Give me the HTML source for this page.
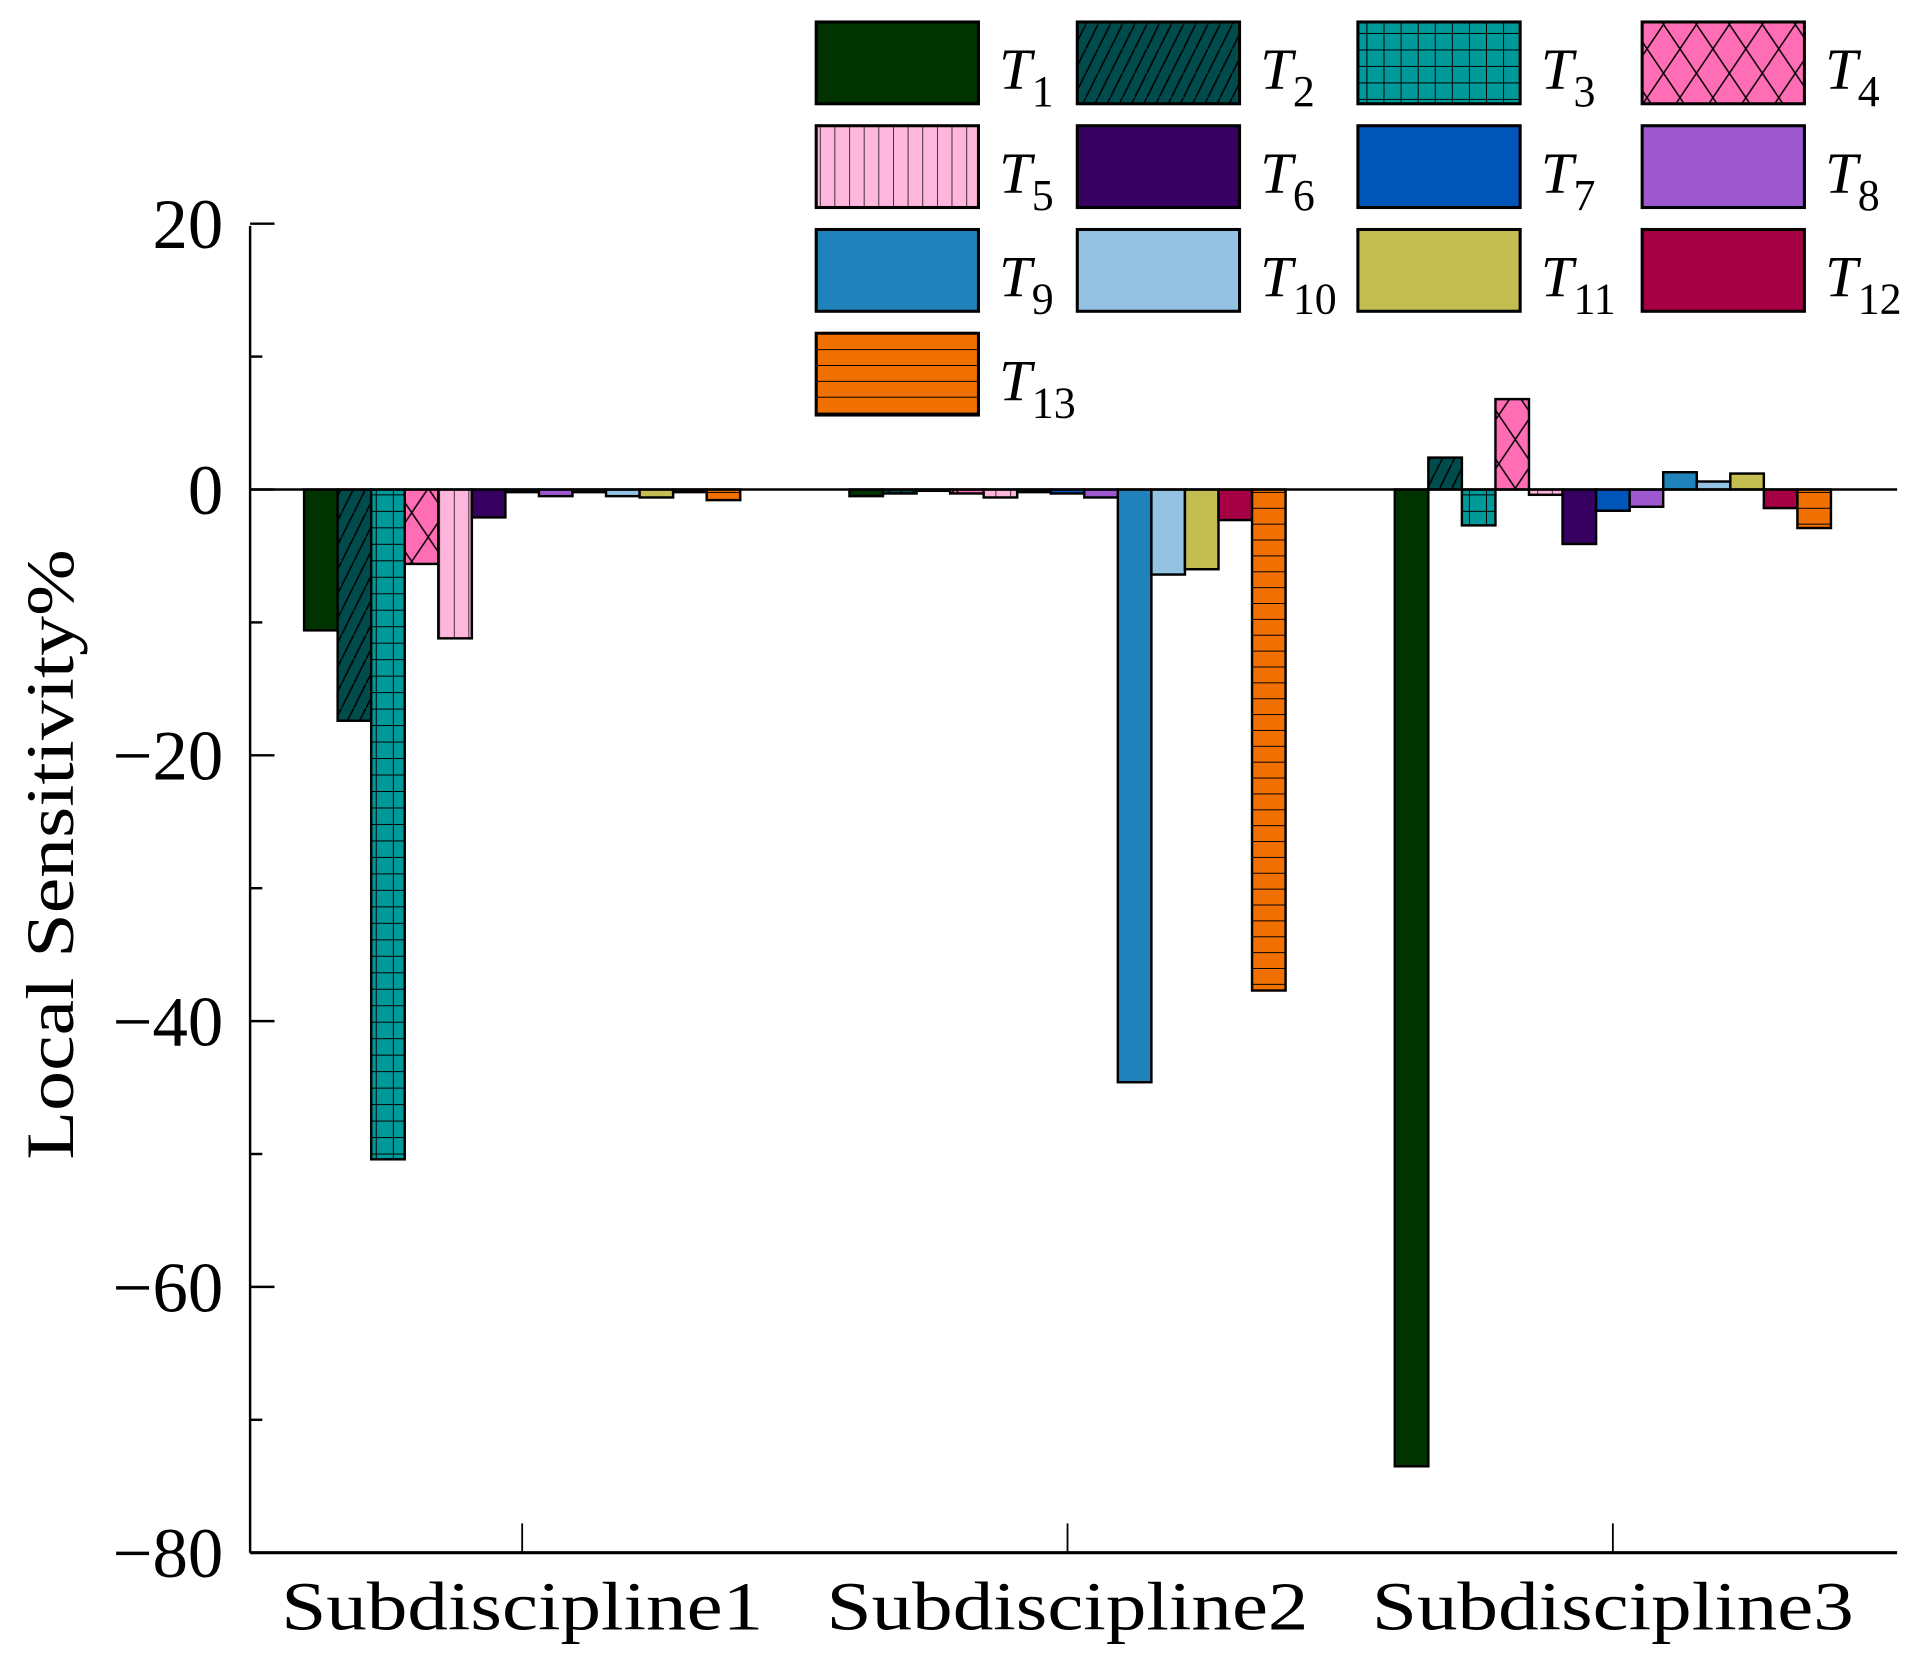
<!DOCTYPE html>
<html><head><meta charset="utf-8"><style>
html,body{margin:0;padding:0;background:#fff;}
svg{display:block;}
text{font-family:"Liberation Serif",serif;fill:#000;}
</style></head><body>
<svg id="chart" width="1913" height="1665" viewBox="0 0 1568 1364" preserveAspectRatio="none" xmlns="http://www.w3.org/2000/svg">
<defs>
<pattern id="p2" patternUnits="userSpaceOnUse" width="10" height="20"><rect width="10" height="20" fill="#004c4c"/><line x1="0" y1="20" x2="10" y2="0" stroke="#000" stroke-width="1.3"/></pattern>
<pattern id="p3" patternUnits="userSpaceOnUse" width="14" height="13.5"><rect width="14" height="13.5" fill="#009999"/><path d="M0 0H14M0 0V13.5" stroke="#000" stroke-width="1.6"/></pattern>
<pattern id="p4" patternUnits="userSpaceOnUse" width="27" height="40"><rect width="27" height="40" fill="#ff6eb4"/><path d="M0 0L27 40M27 0L0 40" stroke="#000" stroke-width="1.2"/></pattern>
<pattern id="p5" patternUnits="userSpaceOnUse" width="12" height="10"><rect width="12" height="10" fill="#ffb6dc"/><line x1="0" y1="0" x2="0" y2="10" stroke="#000" stroke-width="1.2"/></pattern>
<pattern id="p13" patternUnits="userSpaceOnUse" width="10" height="13"><rect width="10" height="13" fill="#f07000"/><line x1="0" y1="0" x2="10" y2="0" stroke="#000" stroke-width="1.6"/></pattern>
</defs>
<g id="bars"></g>
<g id="axes"></g>
<g id="legend"></g>
<text x="0" y="0" font-size="56" text-anchor="middle" textLength="500" lengthAdjust="spacingAndGlyphs" transform="translate(60,700) rotate(-90)">Local Sensitivity%</text>
</svg>
<script>
const categories = ["Subdiscipline1","Subdiscipline2","Subdiscipline3"];
const seriesNames = ["1","2","3","4","5","6","7","8","9","10","11","12","13"];
const s1 = [-10.6, -17.4, -50.4, -5.6, -11.2, -2.1, -0.2, -0.5, -0.2, -0.5, -0.6, -0.2, -0.8];
const s2 = [-0.5, -0.3, -0.1, -0.3, -0.6, -0.2, -0.3, -0.6, -44.6, -6.4, -6.0, -2.3, -37.7];
const s3 = [-73.5, 2.4, -2.7, 6.8, -0.4, -4.1, -1.6, -1.3, 1.3, 0.6, 1.2, -1.4, -2.9];
const groupValues = [s1, s2, s3];
const yTicks = [20, 0, -20, -40, -60, -80];
const yMinor = [10, -10, -30, -50, -70];
const fills = ["#003300","url(#p2)","url(#p3)","url(#p4)","url(#p5)","#360060","#0055b9","#9d58cf","#1f82ba","#93c2e2","#c4bd52","#a50044","url(#p13)"];
const NS = "http://www.w3.org/2000/svg";
const X0 = 205, X1 = 1555, Y20 = 185, Y0 = 401, Ym80 = 1272;
function y(v){ return Y0 + (0 - v) * (Ym80 - Y0) / 80; }
const groupCenters = [428, 875, 1322];
const barW = 27.5;
function xBar(g, i){ return groupCenters[g] - 13*barW/2 + i*barW; }
function mk(tag, attrs, parent){ const e = document.createElementNS(NS, tag); for (const k in attrs) e.setAttribute(k, attrs[k]); parent.appendChild(e); return e; }
const bars = document.getElementById('bars');
groupValues.forEach((vals, g) => {
  vals.forEach((v, i) => {
    const top = Math.min(y(v), y(0)), h = Math.abs(y(v) - y(0));
    const r = mk('rect', {x: xBar(g,i), y: top, width: barW, height: Math.max(h,0.5), fill: fills[i], stroke: '#000', 'stroke-width': 2}, bars);
    
    
  });
});
const axes = document.getElementById('axes');
const zl = mk('line', {x1: X0, y1: Y0, x2: X1, y2: Y0, stroke: '#000', 'stroke-width': 2}, axes);


const ya = mk('line', {x1: X0, y1: Y20, x2: X0, y2: Ym80, stroke: '#000', 'stroke-width': 2}, axes);


const xa = mk('line', {x1: X0, y1: Ym80, x2: X1, y2: Ym80, stroke: '#000', 'stroke-width': 2.5}, axes);


yTicks.forEach(t => {
  mk('line', {x1: X0, y1: y(t), x2: X0 + 20, y2: y(t), stroke: '#000', 'stroke-width': 2}, axes);
  const tx = mk('text', {x: 183, y: y(t) + 20, 'font-size': 58, 'text-anchor': 'end'}, axes);
  tx.textContent = t < 0 ? '\u2212' + Math.abs(t) : String(t);
  
  
});
yMinor.forEach(t => { mk('line', {x1: X0, y1: y(t), x2: X0 + 10, y2: y(t), stroke: '#000', 'stroke-width': 2}, axes); });
categories.forEach((c, g) => {
  mk('line', {x1: groupCenters[g], y1: Ym80, x2: groupCenters[g], y2: Ym80 - 24, stroke: '#000', 'stroke-width': 1.5}, axes);
  const tx = mk('text', {x: groupCenters[g], y: 1335, 'font-size': 56, 'text-anchor': 'middle', textLength: 395, lengthAdjust: 'spacingAndGlyphs'}, axes);
  tx.textContent = c;
  
  
});
const legend = document.getElementById('legend');
const colX = [669, 883, 1113, 1346], rowY = [18, 103, 188, 273];
seriesNames.forEach((n, i) => {
  const cx = colX[i % 4], ry = rowY[Math.floor(i / 4)];
  const g = mk('g', {}, legend);
  
  
  mk('rect', {x: cx, y: ry, width: 133, height: 67, fill: fills[i], stroke: '#000', 'stroke-width': 2.5}, g);
  const t = mk('text', {x: cx + 150, y: ry + 55, 'font-size': 48, 'font-style': 'italic'}, g);
  t.textContent = 'T';
  const s = mk('tspan', {dy: 14, 'font-size': 36, 'font-style': 'normal'}, t);
  s.textContent = n;
});
</script>
</body></html>
